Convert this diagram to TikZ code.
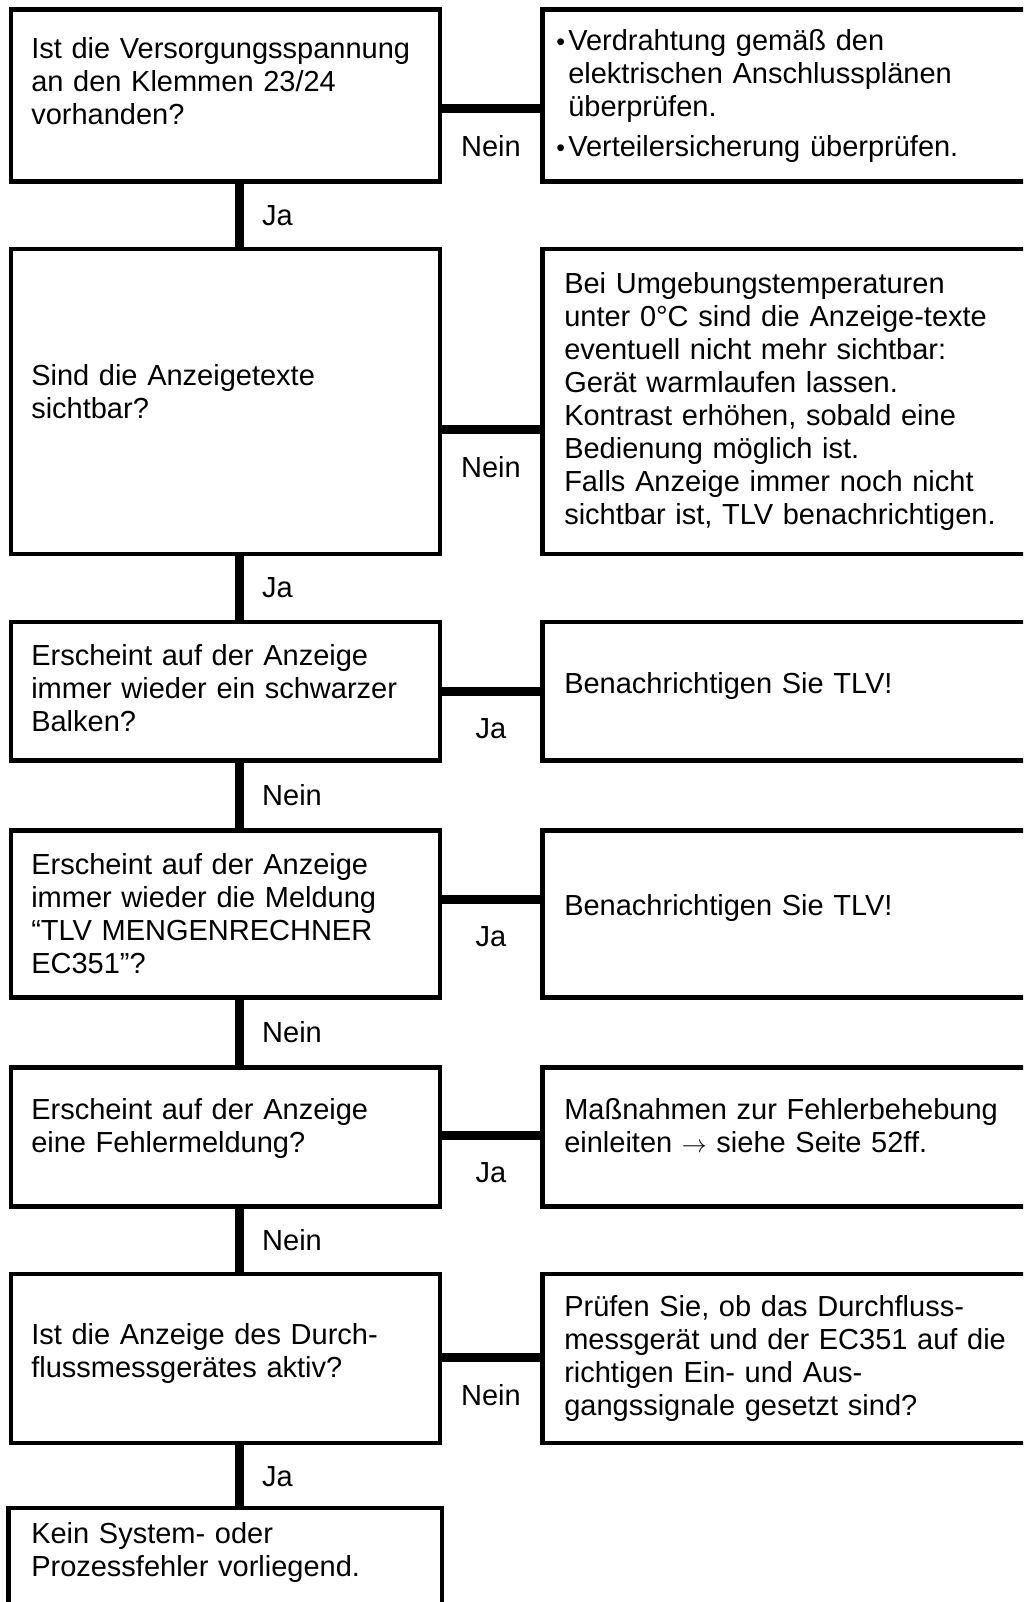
\documentclass[tikz,border=0pt]{standalone}
\usepackage{fontspec}
\setmainfont{Liberation Sans}
\usetikzlibrary{calc}

% space added below a text block, raising it by half that amount
\newcommand{\liftgap}[1]{\par\vspace*{#1}}
% bullet item start and its continuation indent
\newcommand{\blt}{\hspace*{-8pt}\makebox[12pt][l]{\fontsize{25}{25}\selectfont•}}
\newcommand{\bind}{\hspace*{4pt}}

\begin{document}
\begin{tikzpicture}[x=1pt,y=-1pt,
  txt/.style={font=\fontsize{29}{33}\selectfont},
  box/.style={txt, draw, line width=4.5pt, rectangle, anchor=north west,
    inner ysep=0pt, align=left},
  qbox/.style={box, inner xsep=20.5pt, text width=388pt, minimum width=429pt},
  abox/.style={box, inner xsep=22pt, text width=456pt, minimum width=500pt},
  lift/.style={execute at end node={\liftgap{#1}}},
  conn/.style={line width=9pt},
  lbl/.style={txt, inner sep=0pt}
]
\useasboundingbox (0,0) rectangle (1023,1602);
\clip (0,0) rectangle (1023,1602);

% x position of the vertical spine
\coordinate (s) at (239.5,0);

% question boxes (left column)
\node[qbox, lift=30pt, minimum height=172pt] (q1) at (8.5,7.5)
  {Ist die Versorgungsspannung\\an den Klemmen 23/24\\vorhanden?};
\node[qbox, lift=20pt, minimum height=304.5pt] (q2) at (8.5,247)
  {Sind die Anzeigetexte\\sichtbar?};
\node[qbox, lift=6pt, minimum height=138.5pt] (q3) at (8.5,619.5)
  {Erscheint auf der Anzeige\\immer wieder ein schwarzer\\Balken?};
\node[qbox, minimum height=167pt] (q4) at (8.5,828)
  {Erscheint auf der Anzeige\\immer wieder die Meldung\\“TLV MENGENRECHNER\\EC351”?};
\node[qbox, lift=17pt, minimum height=139pt] (q5) at (8.5,1065)
  {Erscheint auf der Anzeige\\eine Fehlermeldung?};
\node[qbox, lift=10pt, minimum height=169pt] (q6) at (8.5,1271.5)
  {Ist die Anzeige des Durch-\\flussmessgerätes aktiv?};
\node[qbox, draw=none, minimum height=84pt] (q7) at (8.5,1508)
  {Kein System- oder\\Prozessfehler vorliegend.};
\draw[line width=4.5pt] ($(q7.south west)+(0,30)$) -- (q7.north west)
  -- (q7.north east) -- ($(q7.south east)+(0,30)$);

% action boxes (right column)
\node[abox, minimum height=172pt] (a1) at (540,7.5)
  {\blt Verdrahtung gemäß den\\\bind elektrischen Anschlussplänen\\\bind überprüfen.\\[7pt]\blt Verteilersicherung überprüfen.};
\node[abox, minimum height=304.5pt] (a2) at (540,247)
  {Bei Umgebungstemperaturen\\unter 0°C sind die Anzeige-texte\\eventuell nicht mehr sichtbar:\\Gerät warmlaufen lassen.\\Kontrast erhöhen, sobald eine\\Bedienung möglich ist.\\Falls Anzeige immer noch nicht\\sichtbar ist, TLV benachrichtigen.};
\node[abox, lift=10pt, minimum height=138.5pt] (a3) at (540,619.5)
  {Benachrichtigen Sie TLV!};
\node[abox, lift=11pt, minimum height=167pt] (a4) at (540,828)
  {Benachrichtigen Sie TLV!};
\node[abox, lift=22pt, minimum height=139pt] (a5) at (540,1065)
  {Maßnahmen zur Fehlerbehebung\\einleiten $\rightarrow$ siehe Seite 52ff.};
\node[abox, minimum height=169pt] (a6) at (540,1271.5)
  {Prüfen Sie, ob das Durchfluss-\\messgerät und der EC351 auf die\\richtigen Ein- und Aus-\\gangssignale gesetzt sind?};

% vertical connectors with their labels
\foreach \u/\v/\t in {q1/q2/Ja, q2/q3/Ja, q3/q4/Nein, q4/q5/Nein, q5/q6/Nein, q6/q7/Ja}{
  \draw[conn] (\u.south -| s) -- (\v.north -| s);
  \node[lbl, anchor=west] at ($(\u.south -| s)!0.5!(\v.north -| s)+(22.5,0)$) {\t};
}

% horizontal connectors with their labels
\foreach \u/\v/\d/\t in {q1/a1/13/Nein, q2/a2/28.25/Nein, q3/a3/0.75/Ja,
                         q4/a4/-14/Ja, q5/a5/-1/Ja, q6/a6/-0.5/Nein}{
  \coordinate (h) at ($(\u.east)+(0,\d)$);
  \draw[conn] (h) -- (h -| \v.west);
  \node[lbl] at ($(h)!0.5!(h -| \v.west)+(0,37)$) {\t};
}
\end{tikzpicture}
\end{document}
